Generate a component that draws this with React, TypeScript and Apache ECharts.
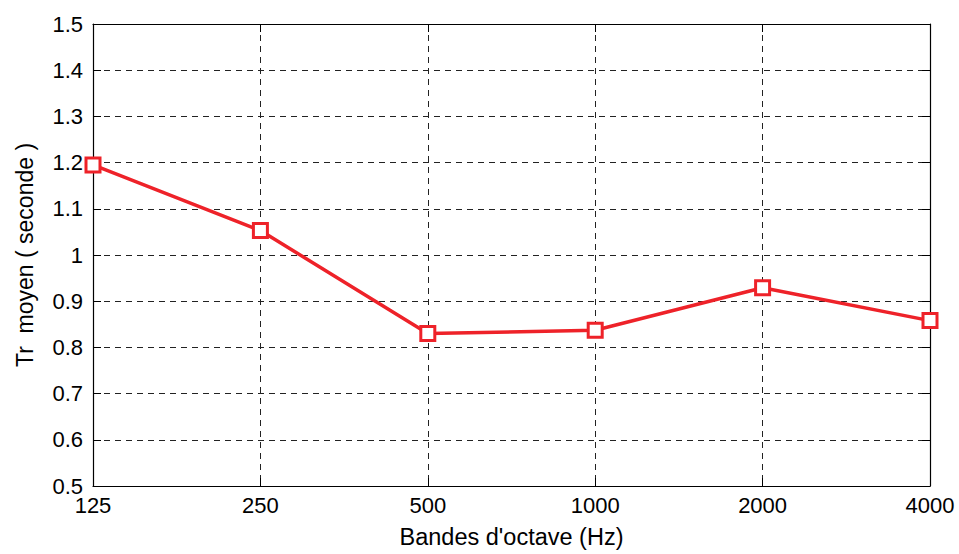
import React, { useEffect, useRef } from "react";
import * as echarts from "echarts";

const categories = ["125", "250", "500", "1000", "2000", "4000"];
const trValues = [1.195, 1.053, 0.83, 0.837, 0.929, 0.858];
const yMin = 0.5;
const yMax = 1.5;
const yStep = 0.1;

const FONT = "'Liberation Sans', Arial, Helvetica, sans-serif";
const RED = "#ee2229";

export default function App() {
  const ref = useRef<HTMLDivElement>(null);
  useEffect(() => {
    if (!ref.current) return;
    const chart = echarts.init(ref.current, null, { renderer: "svg" });
    const splitLine = {
      show: true,
      lineStyle: { color: "#222", width: 1, type: [6, 5] as number[] },
    };
    chart.setOption({
      animation: false,
      backgroundColor: "#fff",
      grid: { left: 93, top: 24, right: 29, bottom: 66, containLabel: false },
      xAxis: [
        {
          type: "category",
          data: categories,
          boundaryGap: false,
          name: "Bandes d'octave (Hz)",
          nameLocation: "middle",
          nameGap: 39,
          nameTextStyle: { fontFamily: FONT, fontSize: 23.5, color: "#000" },
          axisLine: { lineStyle: { color: "#000", width: 1.2 } },
          axisTick: { inside: true, length: 8, lineStyle: { color: "#000" } },
          axisLabel: { fontFamily: FONT, fontSize: 22, color: "#000", margin: 8 },
          splitLine,
        },
        {
          type: "category",
          data: categories,
          boundaryGap: false,
          position: "top",
          axisLine: { lineStyle: { color: "#000", width: 1.2 } },
          axisTick: { inside: true, length: 8, lineStyle: { color: "#000" } },
          axisLabel: { show: false },
          splitLine: { show: false },
        },
      ],
      yAxis: [
        {
          type: "value",
          min: yMin,
          max: yMax,
          interval: yStep,
          name: "Tr  moyen ( seconde )",
          nameLocation: "middle",
          nameGap: 57,
          nameTextStyle: { fontFamily: FONT, fontSize: 23, color: "#000" },
          axisLine: { show: true, lineStyle: { color: "#000", width: 1.2 } },
          axisTick: { show: true, inside: true, length: 8, lineStyle: { color: "#000" } },
          axisLabel: {
            fontFamily: FONT,
            fontSize: 22,
            color: "#000",
            margin: 10,
            formatter: (v: number) => String(Math.round(v * 10) / 10),
          },
          splitLine,
        },
        {
          type: "value",
          min: yMin,
          max: yMax,
          interval: yStep,
          position: "right",
          axisLine: { show: true, lineStyle: { color: "#000", width: 1.2 } },
          axisTick: { show: true, inside: true, length: 8, lineStyle: { color: "#000" } },
          axisLabel: { show: false },
          splitLine: { show: false },
        },
      ],
      series: [
        {
          type: "line",
          data: trValues,
          xAxisIndex: 0,
          yAxisIndex: 0,
          symbol: "rect",
          symbolSize: 14,
          lineStyle: { color: RED, width: 3.5 },
          itemStyle: { color: "#fff", borderColor: RED, borderWidth: 3 },
          z: 5,
        },
      ],
    });
    return () => chart.dispose();
  }, []);
  return (
    <div
      ref={ref}
      style={{ position: "fixed", left: 0, top: 0, width: 959, height: 554 }}
    />
  );
}
